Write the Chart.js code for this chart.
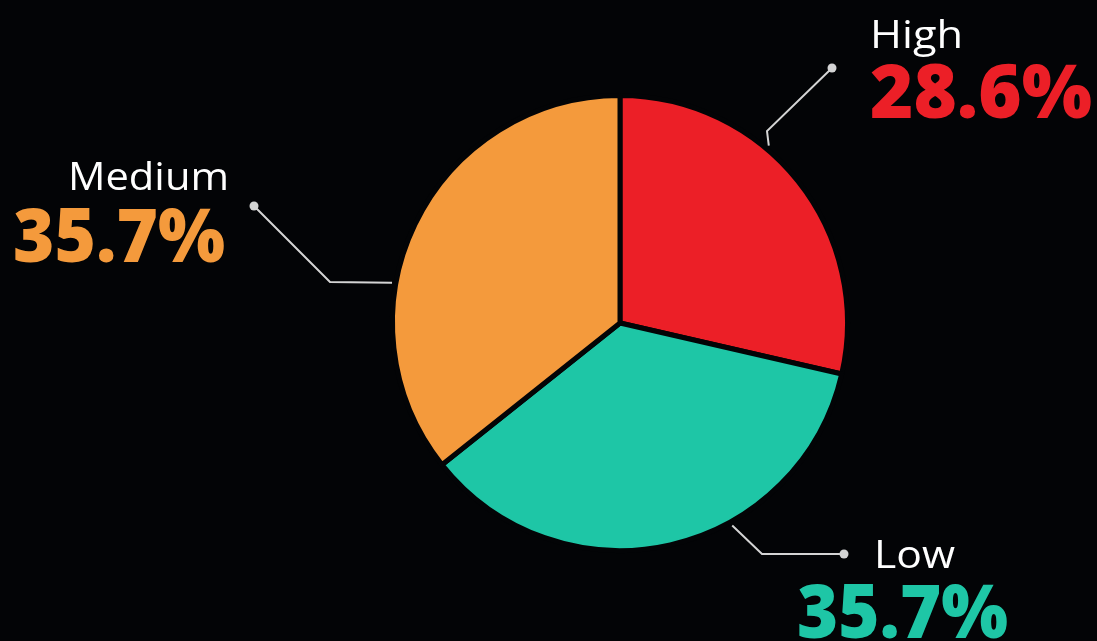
<!DOCTYPE html>
<html>
<head>
<meta charset="utf-8">
<script src="https://cdn.jsdelivr.net/npm/chart.js@4.4.0/dist/chart.umd.min.js"></script>
<style>
  html, body { margin: 0; padding: 0; background: #030406; }
  #wrap { width: 1097px; height: 641px; }
</style>
</head>
<body>
<div id="wrap"><canvas id="riskChart"></canvas></div>
<script>
const levels = ['High', 'Low', 'Medium'];
const shares = [28.6, 35.7, 35.7];
const sliceColors = ['#EC1F27', '#1EC6A6', '#F49A3C'];

// callout layout for each slice: angle on the rim (deg, clockwise from top),
// elbow and dot of the leader line, name and percentage boxes [left, baseline, width]
const callouts = [
    { angle: 40, elbow: [767, 131], dot: [832, 68], name: [870, 48, 93], pct: [870, 118, 222] },
    { angle: 151, elbow: [762, 554], dot: [844, 554], name: [874, 568, 81], pct: [797, 638, 211] },
    { angle: 280, elbow: [330, 282], dot: [254, 206], name: [68, 190, 161], pct: [13, 262, 212] }
];

// draw text stretched horizontally to fill a given width
function fitText(ctx, text, x, y, w) {
    const m = ctx.measureText(text).width;
    ctx.save();
    ctx.translate(x, y);
    ctx.scale(w / m, 1);
    ctx.textAlign = 'left';
    ctx.fillText(text, 0, 0);
    ctx.restore();
}

const calloutPlugin = {
    id: 'callouts',
    afterDatasetsDraw(chart) {
        const ctx = chart.ctx;
        const arc = chart.getDatasetMeta(0).data[0];
        const cx = arc.x, cy = arc.y, r = arc.outerRadius;
        ctx.save();
        callouts.forEach((c, i) => {
            const a = (c.angle - 90) * Math.PI / 180;
            const sx = cx + Math.cos(a) * (r + 4);
            const sy = cy + Math.sin(a) * (r + 4);
            ctx.strokeStyle = '#d4d4d4';
            ctx.lineWidth = 2;
            ctx.beginPath();
            ctx.moveTo(sx, sy);
            ctx.lineTo(c.elbow[0], c.elbow[1]);
            ctx.lineTo(c.dot[0], c.dot[1]);
            ctx.stroke();
            ctx.fillStyle = '#d4d4d4';
            ctx.beginPath();
            ctx.arc(c.dot[0], c.dot[1], 4.5, 0, Math.PI * 2);
            ctx.fill();

            ctx.textBaseline = 'alphabetic';
            ctx.fillStyle = '#ffffff';
            ctx.font = '500 38px "Open Sans", sans-serif';
            fitText(ctx, levels[i], c.name[0], c.name[1], c.name[2]);

            ctx.fillStyle = sliceColors[i];
            ctx.font = '800 74px "Open Sans", sans-serif';
            fitText(ctx, shares[i].toFixed(1) + '%', c.pct[0], c.pct[1], c.pct[2]);
        });
        ctx.restore();
    }
};

new Chart(document.getElementById('riskChart'), {
    type: 'pie',
    data: {
        labels: levels,
        datasets: [{
            data: shares,
            backgroundColor: sliceColors,
            borderColor: '#030406',
            borderWidth: 5
        }]
    },
    options: {
        responsive: true,
        maintainAspectRatio: false,
        animation: false,
        layout: { padding: { top: 93, bottom: 88, left: 390, right: 247 } },
        plugins: {
            legend: { display: false },
            tooltip: { enabled: false }
        }
    },
    plugins: [calloutPlugin]
});
</script>
</body>
</html>
